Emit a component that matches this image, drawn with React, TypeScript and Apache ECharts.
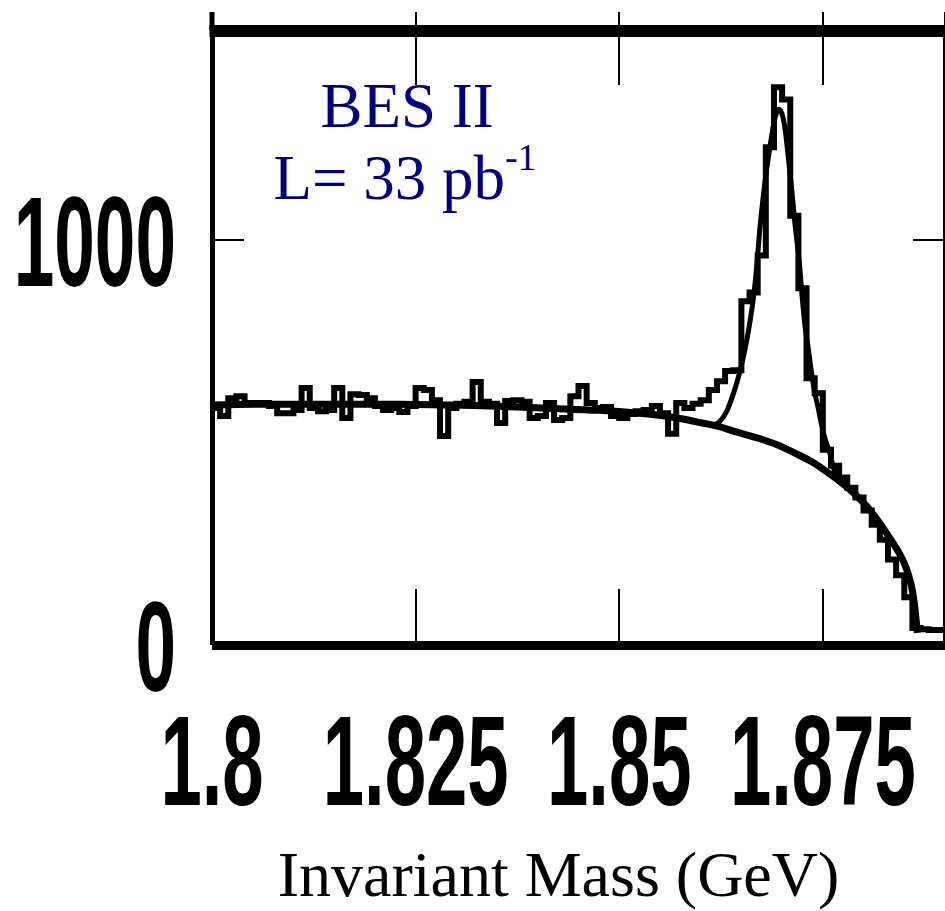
import React, { useEffect, useRef } from "react";
import * as echarts from "echarts";

// Axis ranges and ticks
const X_MIN = 1.8;
const X_MAX = 1.89;
const X_INTERVAL = 0.025;
const Y_MIN = 0;
const Y_MAX = 1515;
const Y_INTERVAL = 1000;
const X_TICKS = [1.8, 1.825, 1.85, 1.875];
const X_TICK_LABELS = ["1.8", "1.825", "1.85", "1.875"];
const Y_TICKS = [0, 1000];
const Y_TICK_LABELS = ["0", "1000"];

// Histogram: bins of 1 MeV starting at 1.800 GeV
const BIN_START = 1.8;
const BIN_WIDTH = 0.001;
const COUNTS = [
  585, 565, 609, 614, 597, 597, 597, 590, 572, 572,
  580, 634, 585, 577, 580, 634, 560, 619, 617, 609,
  590, 580, 585, 575, 590, 634, 629, 604, 516, 585,
  595, 600, 649, 600, 595, 548, 602, 604, 600, 560,
  565, 597, 555, 560, 614, 639, 597, 585, 587, 565,
  560, 570, 577, 580, 590, 572, 521, 597, 585, 595,
  604, 629, 651, 676, 678, 848, 870, 961, 1228, 1376,
  1346, 1059, 880, 658, 621, 482, 442, 413, 388, 364,
  332, 297, 260, 211, 172, 118, 42, 39, 37, 37,
];

// Background fit curve
const BG_X = [
  1.8, 1.80586, 1.81075, 1.81686, 1.82296, 1.82907, 1.83518, 1.84128,
  1.84739, 1.8535, 1.85716, 1.85961, 1.86205, 1.86449, 1.86694, 1.86938,
  1.87182, 1.87365, 1.87585, 1.87793, 1.88, 1.88159, 1.88318, 1.8844,
  1.88526, 1.88587, 1.88623, 1.88648, 1.8866,
];
const BG_Y = [
  592, 594, 594, 594, 594, 592, 589, 584,
  579, 570, 560, 550, 540, 525, 511, 494,
  471, 452, 422, 390, 351, 312, 265, 226,
  189, 147, 103, 57, 30,
];

// Signal + background fit curve around the peak
const FIT_X = [
  1.86144, 1.86242, 1.86327, 1.86413, 1.86486, 1.86547, 1.86608, 1.86657,
  1.86694, 1.8673, 1.86779, 1.86816, 1.86865, 1.86901, 1.86938, 1.86962,
  1.86999, 1.87036, 1.87072, 1.87121, 1.87158, 1.87207, 1.87243, 1.8728,
  1.87329, 1.87365, 1.87402, 1.87451, 1.87487, 1.87524, 1.87585, 1.87646,
  1.87732,
];
const FIT_Y = [
  541, 553, 580, 627, 678, 732, 801, 872,
  948, 1034, 1125, 1182, 1248, 1290, 1317, 1322,
  1310, 1273, 1211, 1118, 1039, 953, 867, 789,
  720, 666, 622, 577, 541, 511, 474, 428,
  400,
];

const TITLE_LINE1 = "BES II";
const TITLE_LINE2 = "L= 33 pb";
const TITLE_SUP = "-1";
const X_NAME = "Invariant Mass (GeV)";

export default function App() {
  const ref = useRef<HTMLDivElement>(null);

  useEffect(() => {
    const el = ref.current;
    if (!el) return;
    const chart = echarts.init(el, null, { renderer: "svg" });

    const histData: number[][] = [];
    COUNTS.forEach((c, i) => {
      const lo = BIN_START + i * BIN_WIDTH;
      histData.push([lo, c], [lo + BIN_WIDTH, c]);
    });
    const bgData = BG_X.map((x, i) => [x, BG_Y[i]]);
    const fitData = FIT_X.map((x, i) => [x, FIT_Y[i]]);

    const black = "#000";
    const xBase = {
      type: "value",
      min: X_MIN,
      max: X_MAX,
      interval: X_INTERVAL,
      axisLabel: { show: false },
      splitLine: { show: false },
    };
    const yBase = {
      type: "value",
      min: Y_MIN,
      max: Y_MAX,
      interval: Y_INTERVAL,
      axisLabel: { show: false },
      splitLine: { show: false },
      axisLine: { show: true, onZero: false, lineStyle: { color: black, width: 5, cap: "butt" } },
      axisTick: { show: true, inside: true, length: 32, lineStyle: { color: black, width: 2 } },
    };

    const option: any = {
      animation: false,
      backgroundColor: "#fff",
      grid: { left: 212, top: 31, width: 736.8, height: 617, containLabel: false },
      xAxis: [
        {
          ...xBase,
          position: "bottom",
          axisLine: { show: true, onZero: false, lineStyle: { color: black, width: 9, cap: "butt" } },
          axisTick: { show: true, inside: true, length: 56, lineStyle: { color: black, width: 2 } },
          name: X_NAME,
          nameLocation: "middle",
          nameGap: 197,
          nameTextStyle: {
            fontFamily: "Liberation Serif",
            fontSize: 64,
            color: black,
            padding: [0, 40, 0, 0],
          },
        },
        {
          ...xBase,
          position: "top",
          offset: 19,
          axisLine: { show: false, onZero: false },
          axisTick: { show: true, inside: true, length: 73, lineStyle: { color: black, width: 2 } },
        },
      ],
      yAxis: [
        { ...yBase, position: "left" },
        { ...yBase, position: "right" },
      ],
      series: [
        {
          type: "line",
          name: "data",
          xAxisIndex: 0,
          yAxisIndex: 0,
          data: histData,
          showSymbol: false,
          silent: true,
          lineStyle: { color: black, width: 6, join: "miter" },
          z: 3,
        },
        {
          type: "line",
          name: "background",
          xAxisIndex: 0,
          yAxisIndex: 0,
          data: bgData,
          showSymbol: false,
          silent: true,
          smooth: 0.3,
          lineStyle: { color: black, width: 7 },
          z: 4,
        },
        {
          type: "line",
          name: "fit",
          xAxisIndex: 0,
          yAxisIndex: 0,
          data: fitData,
          showSymbol: false,
          silent: true,
          smooth: 0.3,
          lineStyle: { color: black, width: 5 },
          z: 4,
        },
      ],
    };
    chart.setOption(option);

    const axisX = chart.convertToPixel({ xAxisIndex: 0 }, X_MIN) as number;
    const endX = chart.convertToPixel({ xAxisIndex: 0 }, X_MAX) as number;
    const axisY = chart.convertToPixel({ yAxisIndex: 0 }, Y_MIN) as number;
    const topY = chart.convertToPixel({ yAxisIndex: 0 }, Y_MAX) as number;

    const labelFont = {
      fontFamily: "Liberation Sans",
      fontWeight: "bold",
      fontSize: 128,
      fill: black,
    };
    const graphics: any[] = [];
    X_TICKS.forEach((t, i) => {
      const px = chart.convertToPixel({ xAxisIndex: 0 }, t) as number;
      graphics.push({
        type: "text",
        x: px,
        y: axisY + 115,
        scaleX: 0.58,
        silent: true,
        style: {
          ...labelFont,
          text: X_TICK_LABELS[i],
          align: "center",
          verticalAlign: "middle",
          textAlign: "center",
          textVerticalAlign: "middle",
        },
      });
    });
    Y_TICKS.forEach((t, i) => {
      const py = chart.convertToPixel({ yAxisIndex: 0 }, t) as number;
      graphics.push({
        type: "text",
        x: axisX - 36,
        y: py + 2,
        scaleX: 0.57,
        silent: true,
        style: {
          ...labelFont,
          text: Y_TICK_LABELS[i],
          align: "right",
          verticalAlign: "middle",
          textAlign: "right",
          textVerticalAlign: "middle",
        },
      });
    });
    // Thick top frame line
    graphics.push({
      type: "line",
      silent: true,
      z: 5,
      shape: { x1: axisX - 2.5, y1: topY, x2: endX, y2: topY },
      style: { stroke: black, lineWidth: 12 },
    });
    // Left frame line extends a little above the top frame line
    graphics.push({
      type: "line",
      silent: true,
      z: 5,
      shape: { x1: axisX, y1: topY - 19, x2: axisX, y2: topY },
      style: { stroke: black, lineWidth: 5 },
    });
    graphics.push({
      type: "text",
      x: 407,
      y: 106,
      silent: true,
      style: {
        text: TITLE_LINE1,
        fontFamily: "Liberation Serif",
        fontSize: 63,
        fill: "#000080",
        align: "center",
        verticalAlign: "middle",
        textAlign: "center",
        textVerticalAlign: "middle",
      },
    });
    graphics.push({
      type: "text",
      x: 405,
      y: 178,
      silent: true,
      style: {
        text: "{m|" + TITLE_LINE2 + "}{s|" + TITLE_SUP + "}",
        fontFamily: "Liberation Serif",
        fontSize: 63,
        fill: "#000080",
        align: "center",
        verticalAlign: "middle",
        textAlign: "center",
        textVerticalAlign: "middle",
        rich: {
          m: { fontFamily: "Liberation Serif", fontSize: 63, fill: "#000080", lineHeight: 80 },
          s: {
            fontFamily: "Liberation Serif",
            fontSize: 38,
            fill: "#000080",
            verticalAlign: "top",
          },
        },
      },
    });
    chart.setOption({ graphic: graphics });

    return () => chart.dispose();
  }, []);

  return (
    <div
      ref={ref}
      style={{ position: "fixed", left: 0, top: 0, width: 945, height: 911, background: "#fff" }}
    />
  );
}
